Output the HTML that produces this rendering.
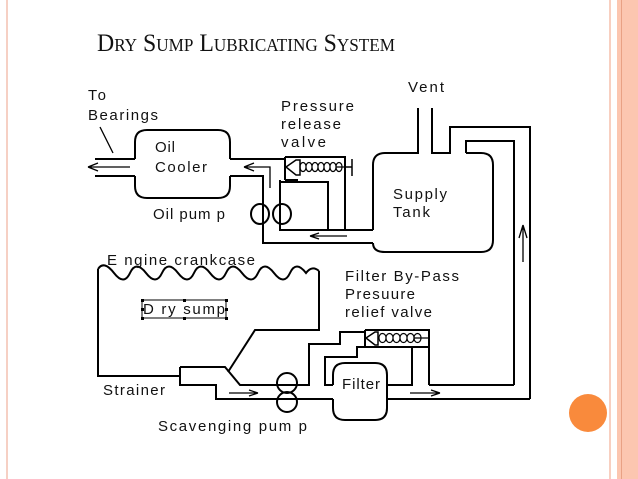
<!DOCTYPE html>
<html><head><meta charset="utf-8"><style>
html,body{margin:0;padding:0;background:#fff}
svg{display:block}
text{font-family:"Liberation Sans",Arial,sans-serif;font-size:15px;fill:#111}
</style></head><body>
<svg width="638" height="479" viewBox="0 0 638 479" xmlns="http://www.w3.org/2000/svg">
<rect x="0" y="0" width="638" height="479" fill="#fff"/>
<rect x="6" y="0" width="2" height="479" fill="#f6d0c4"/>
<rect x="609" y="0" width="2" height="479" fill="#f8cfc0"/>
<rect x="617" y="0" width="21" height="479" fill="#fcc6b0"/>
<rect x="621" y="0" width="1" height="479" fill="#e9a184"/>
<circle cx="588" cy="413" r="19" fill="#f98a3c"/>
<text x="97" y="51" style="font-family:'Liberation Serif',serif;font-size:25px;font-variant:small-caps;fill:#111" textLength="298" lengthAdjust="spacingAndGlyphs">Dry Sump Lubricating System</text>

<g fill="none" stroke="#000" stroke-width="2">
<path d="M135,159 V142 Q135,130 147,130 H218 Q230,130 230,142 V159 M230,176 V186 Q230,198 218,198 H147 Q135,198 135,186 V176"/>
<path d="M95,159 H135 M95,176 H135"/>
<path d="M230,159 H285 M230,176 H263 V243 H373"/>
<path d="M130,167 H88 M88,167 L98,163 M88,167 L98,171" stroke-width="1.3"/>
<path d="M270,188 V167 H244 M244,167 L254,163 M244,167 L254,171" stroke-width="1.3"/>
<path d="M100,127 L113,153" stroke-width="1.3"/>
<path d="M285,157 H345 V230 H373 M285,157 V180 M285,180 H298"/>
<path d="M280,180 V230 H345 M280,182 H328 V230"/>
<path d="M286,167 L296,160 H300 V175 H296 Z" stroke-width="1.5"/>
<path d="M345,167 H352 M352,159 V176" stroke-width="1.5"/>
<path d="M310,236 H347 M310,236 L319,233 M310,236 L319,239" stroke-width="1.3"/>
<ellipse cx="260" cy="214" rx="9" ry="10"/>
<ellipse cx="282" cy="214" rx="9" ry="10"/>
<path d="M373,230 V165 Q373,153 385,153 H418 V108 M432,108 V153 H450 V127 H530 V399 M466,153 V141 H514 V385 M466,153 H481 Q493,153 493,165 V240 Q493,252 481,252 H385 Q373,252 373,243"/>
<path d="M523,262 V225 M523,225 L519,238 M523,225 L527,238" stroke-width="1.3"/>
<path d="M98,269 Q104,260 114,273 T130,273 T146,273 T162,273 T178,273 T194,273 T210,273 T226,273 T242,273 T258,273 T274,273 T290,273 T306,273 Q312,265 319,271"/>
<path d="M98,269 V376 H180 M319,271 V330 H255 L228,372"/>
<path d="M180,367 H225 L240,385 H309 V344 H340 V332 H365 M180,367 V385 H216 V399 H333"/>
<path d="M229,393 H258 M258,393 L249,390 M258,393 L249,396" stroke-width="1.3"/>
<ellipse cx="287" cy="383" rx="10" ry="10"/>
<ellipse cx="287" cy="402" rx="10" ry="10"/>
<path d="M333,385 V375 Q333,363 345,363 H375 Q387,363 387,375 V408 Q387,420 375,420 H345 Q333,420 333,408 V399"/>
<path d="M333,385 H325 V357 H357 V347 H365 M387,385 H412 V347"/>
<path d="M387,399 H530 M429,385 H514"/>
<path d="M365,330 H429 V385 M365,330 V347 H429"/>
<path d="M366,338 L375,332 H378 V345 H375 Z" stroke-width="1.5"/>
<path d="M410,393 H440 M440,393 L431,390 M440,393 L431,396" stroke-width="1.3"/>
<rect x="142" y="300" width="84" height="18" stroke-width="1"/>
</g>
<g fill="none" stroke="#000" stroke-width="1.2">
<path d="M300,167 c0,-6 6,-6 6,0 c0,6 -6,6 -6,0 m6,0 c0,-6 6,-6 6,0 c0,6 -6,6 -6,0 m6,0 c0,-6 6,-6 6,0 c0,6 -6,6 -6,0 m6,0 c0,-6 6,-6 6,0 c0,6 -6,6 -6,0 m6,0 c0,-6 6,-6 6,0 c0,6 -6,6 -6,0 m6,0 c0,-6 6,-6 6,0 c0,6 -6,6 -6,0 m6,0 c0,-6 6,-6 6,0 c0,6 -6,6 -6,0 H345"/>
<path d="M379,338 c0,-6 7,-6 7,0 c0,6 -7,6 -7,0 m7,0 c0,-6 7,-6 7,0 c0,6 -7,6 -7,0 m7,0 c0,-6 7,-6 7,0 c0,6 -7,6 -7,0 m7,0 c0,-6 7,-6 7,0 c0,6 -7,6 -7,0 m7,0 c0,-6 7,-6 7,0 c0,6 -7,6 -7,0 m7,0 c0,-6 7,-6 7,0 c0,6 -7,6 -7,0 H429"/>
</g>
<g fill="#000">
<rect x="141" y="299" width="3" height="3"/><rect x="183" y="299" width="3" height="3"/><rect x="225" y="299" width="3" height="3"/>
<rect x="141" y="317" width="3" height="3"/><rect x="183" y="317" width="3" height="3"/><rect x="225" y="317" width="3" height="3"/>
<rect x="141" y="308" width="3" height="3"/><rect x="225" y="308" width="3" height="3"/>
</g>
<text x="88" y="100" textLength="18">To</text>
<text x="88" y="120" textLength="70" lengthAdjust="spacing">Bearings</text>
<text x="155" y="152" textLength="20">Oil</text>
<text x="155" y="172" textLength="52" lengthAdjust="spacing">Cooler</text>
<text x="153" y="219" textLength="72" lengthAdjust="spacing">Oil pum p</text>
<text x="281" y="111" textLength="73" lengthAdjust="spacing">Pressure</text>
<text x="281" y="129" textLength="60" lengthAdjust="spacing">release</text>
<text x="281" y="147" textLength="45" lengthAdjust="spacing">valve</text>
<text x="408" y="92" textLength="36" lengthAdjust="spacing">Vent</text>
<text x="393" y="199" textLength="54" lengthAdjust="spacing">Supply</text>
<text x="393" y="217" textLength="37" lengthAdjust="spacing">Tank</text>
<text x="107" y="265" textLength="148" lengthAdjust="spacing">E ngine crankcase</text>
<text x="345" y="281" textLength="114" lengthAdjust="spacing">Filter By-Pass</text>
<text x="345" y="299" textLength="70" lengthAdjust="spacing">Presuure</text>
<text x="345" y="317" textLength="87" lengthAdjust="spacing">relief valve</text>
<text x="143" y="314" textLength="82" lengthAdjust="spacing">D ry sump</text>
<text x="342" y="389" textLength="38" lengthAdjust="spacing">Filter</text>
<text x="103" y="395" textLength="62" lengthAdjust="spacing">Strainer</text>
<text x="158" y="431" textLength="149" lengthAdjust="spacing">Scavenging pum p</text>
</svg>
</body></html>
